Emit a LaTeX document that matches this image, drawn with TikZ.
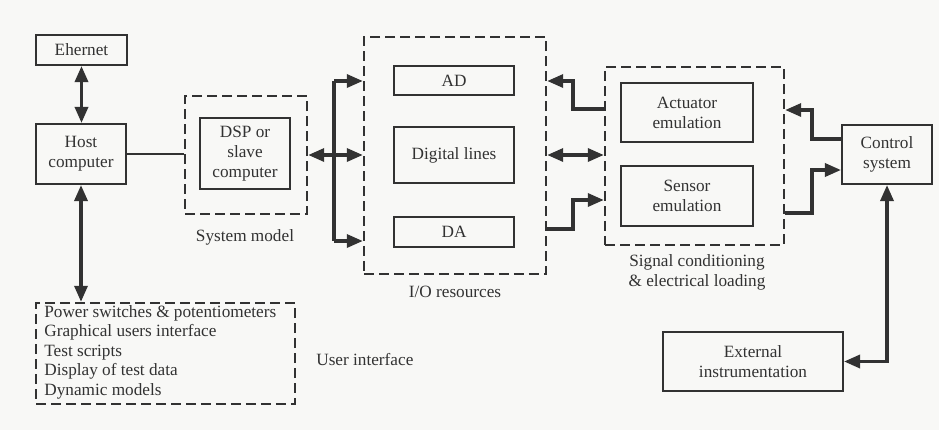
\documentclass[tikz,border=0pt]{standalone}
\usepackage{fontspec}
\setmainfont{Liberation Serif}
\usetikzlibrary{arrows.meta}
\definecolor{ink}{RGB}{50,50,50}
\definecolor{paper}{RGB}{248,248,246}

\begin{document}
\begin{tikzpicture}[x=0.02cm,y=-0.02cm,
  every node/.style={font=\fontsize{9.8}{11.3}\selectfont, text=ink},
  box/.style={draw=ink, line width=1.2pt, align=center, inner sep=0pt},
  group/.style={draw=ink, line width=1.4pt, dash pattern=on 0.2cm off 0.1cm, inner sep=0pt},
  link/.style={draw=ink, line width=1.9pt},
  wire/.style={draw=ink, line width=1.1pt},
  tip/.style={-{Triangle[length=0.32cm,width=0.26cm]}},
  twotip/.style={{Triangle[length=0.32cm,width=0.26cm]}-{Triangle[length=0.32cm,width=0.26cm]}},
]
% page
\fill[paper] (0,0) rectangle (939,430);
\useasboundingbox (0,0) rectangle (939,430);

% host side
\node[box, minimum width=1.82cm, minimum height=0.6cm] (eth) at (81.5,50) {Ehernet};
\node[box, minimum width=1.8cm, minimum height=1.2cm] (host) at (81,154) {Host\\computer};

% system model
\node[group, minimum width=2.44cm, minimum height=2.36cm] (sysm) at (246,155) {};
\node[box, minimum width=1.8cm, minimum height=1.42cm] (dsp) at (245,153.5) {DSP or\\slave\\computer};
\node (sysmlbl) at (245,237) {System model};

% I/O resources
\node[group, minimum width=3.64cm, minimum height=4.74cm] (io) at (455,155.5) {};
\node[box, minimum width=2.4cm, minimum height=0.58cm] (ad) at (454,80.5) {AD};
\node[box, minimum width=2.4cm, minimum height=1.12cm] (dig) at (454,155) {Digital lines};
\node[box, minimum width=2.4cm, minimum height=0.6cm] (da) at (454,232) {DA};
\node (iolbl) at (455,292) {I/O resources};

% signal conditioning
\node[group, minimum width=3.58cm, minimum height=3.56cm] (sig) at (694.5,156) {};
\node[box, minimum width=2.64cm, minimum height=1.18cm] (act) at (687,112.5) {Actuator\\emulation};
\node[box, minimum width=2.64cm, minimum height=1.2cm] (sen) at (687,196) {Sensor\\emulation};
\node[align=center] (siglbl) at (697,272) {Signal conditioning\\\& electrical loading};

% controller and instruments
\node[box, minimum width=1.8cm, minimum height=1.18cm] (ctrl) at (887,154.5) {Control\\system};
\node[box, minimum width=3.6cm, minimum height=1.18cm] (ext) at (753,361.5) {External\\instrumentation};

% user interface
\node[group, minimum width=5.18cm, minimum height=2.02cm] (ui) at (165.5,353.5) {};
\node[anchor=west, align=left, inner sep=0pt, font=\fontsize{9.8}{11.1}\selectfont] (uitext) at (44,352)
  {Power switches \& potentiometers\\Graphical users interface\\Test scripts\\Display of test data\\Dynamic models};
\node[anchor=west, inner sep=0pt] (uilbl) at (316,360) {User interface};

% host links
\draw[link,twotip] (eth.south) -- (eth.south |- host.north);
\draw[link,twotip] (host.south) -- (host.south |- ui.north);
\draw[wire] (host.east) -- (host.east -| sysm.west);

% system model to I/O
\coordinate (bt) at (334,81);
\coordinate (bb) at (334,241);
\draw[link] (bt) -- (bb);
\draw[link,tip] (bt) -- (bt -| io.west);
\draw[link,tip] (bb) -- (bb -| io.west);
\draw[link,twotip] (sysm.east) -- (sysm.east -| io.west);

% I/O to signal conditioning
\draw[link,tip] (sig.west |- 0,109) -| (573,81) -- (io.east |- 0,81);
\draw[link,twotip] (io.east |- 0,155) -- (sig.west |- 0,155);
\draw[link,tip] (io.east |- 0,229) -| (573,200) -- (sig.west |- 0,200);

% signal conditioning to control system
\draw[link,tip] (ctrl.west |- 0,139) -| (812,110) -- (sig.east |- 0,110);
\draw[link,tip] (sig.east |- 0,213) -| (812,170) -- (ctrl.west |- 0,170);
\draw[link,twotip] (ext.east) -| (ctrl.south);
\end{tikzpicture}
\end{document}
